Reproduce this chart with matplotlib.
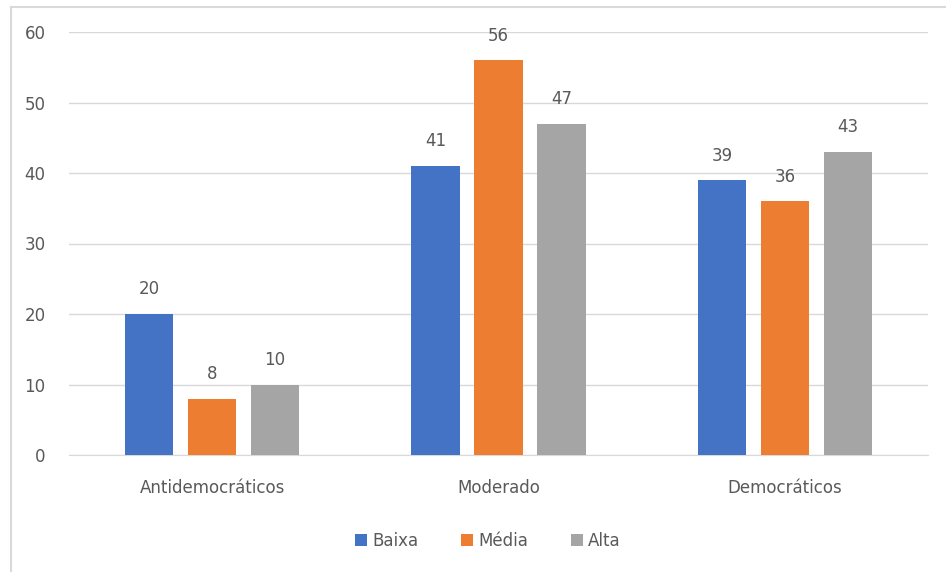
import numpy as np
import matplotlib.pyplot as plt
from matplotlib.lines import Line2D

categories = ['Antidemocráticos', 'Moderado', 'Democráticos']
series_names = ['Baixa', 'Média', 'Alta']
baixa = [20, 41, 39]
media = [8, 56, 36]
alta = [10, 47, 43]
colors = ['#4472C4', '#ED7D31', '#A5A5A5']
yticks = [0, 10, 20, 30, 40, 50, 60]

plt.rcParams['font.family'] = ['DejaVu Sans']
text_color = '#595959'
fs = 12

fig = plt.figure(figsize=(9.46, 5.72), dpi=100)
ax = fig.add_axes([69 / 946, 1 - 455 / 572, 859 / 946, 423 / 572])

x = np.arange(len(categories))
width = 0.168
offset = 0.22
for i, (vals, name, c) in enumerate(zip([baixa, media, alta], series_names, colors)):
    pos = x + (i - 1) * offset
    bars = ax.bar(pos, vals, width, color=c, label=name, zorder=3)
    for b, v in zip(bars, vals):
        ax.text(b.get_x() + b.get_width() / 2, v + 2.2, str(v),
                ha='center', va='bottom', fontsize=fs, color=text_color)

ax.set_xlim(-0.5, 2.5)
ax.set_ylim(0, 60)
ax.set_yticks(yticks)
ax.set_xticks(x)
ax.set_xticklabels(categories)
ax.tick_params(axis='both', length=0, labelsize=fs, colors=text_color)
ax.tick_params(axis='y', pad=17)
ax.tick_params(axis='x', pad=17)
ax.grid(axis='y', color='#D9D9D9', linewidth=1, zorder=0)
for s in ['top', 'right', 'left']:
    ax.spines[s].set_visible(False)
ax.spines['bottom'].set_color('#D9D9D9')

leg = fig.legend(loc='center', bbox_to_anchor=(488 / 946, 1 - 541 / 572), ncol=3,
                 frameon=False, fontsize=fs, handlelength=0.7, handleheight=0.7,
                 handletextpad=0.3, columnspacing=2.6)
for t in leg.get_texts():
    t.set_color(text_color)

# chart border (top and left edges visible)
fig.add_artist(Line2D([11 / 946, 1], [1 - 7 / 572, 1 - 7 / 572], transform=fig.transFigure,
                      color='#D9D9D9', linewidth=1.5))
fig.add_artist(Line2D([11 / 946, 11 / 946], [0, 1 - 7 / 572], transform=fig.transFigure,
                      color='#D9D9D9', linewidth=1.5))

fig.savefig('out.png', dpi=100)
